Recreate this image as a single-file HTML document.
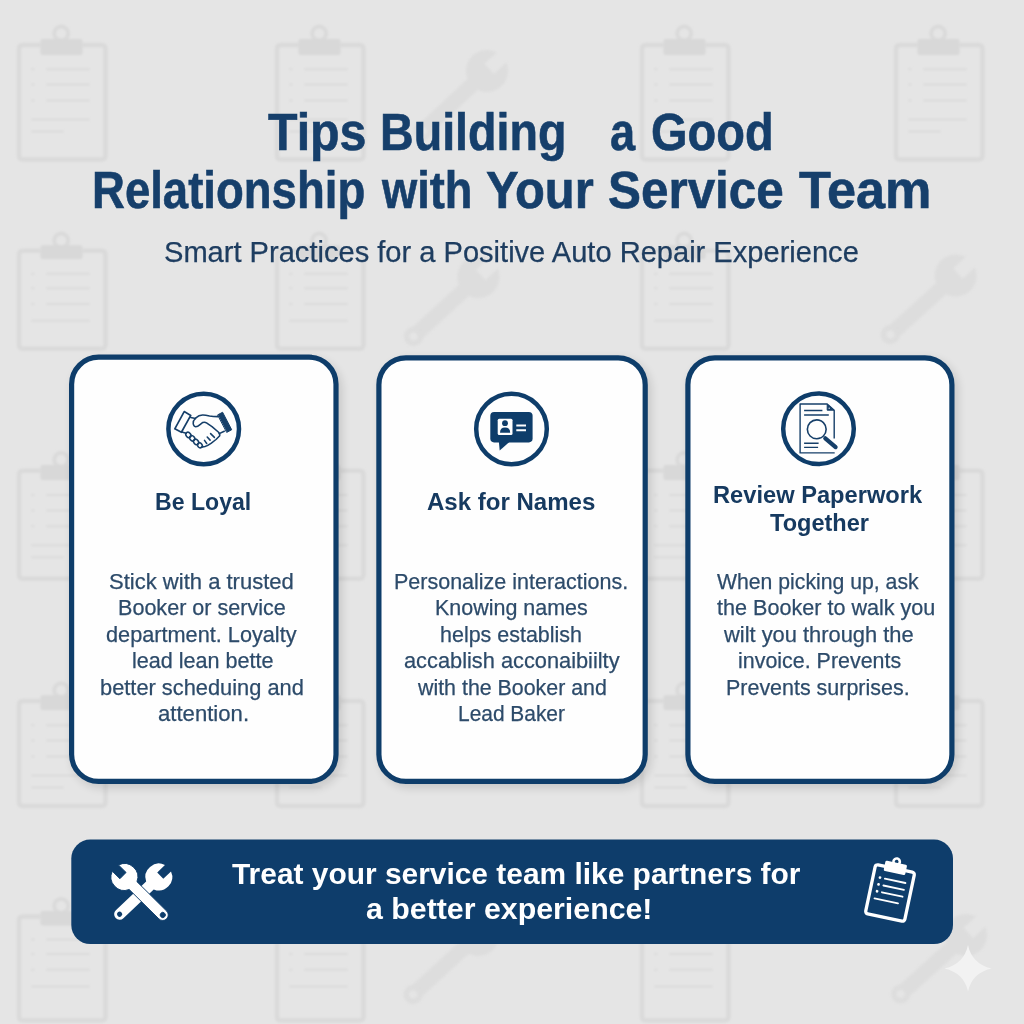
<!DOCTYPE html>
<html><head><meta charset="utf-8">
<style>
html,body{margin:0;padding:0;}
body{width:1024px;height:1024px;overflow:hidden;background:#e5e5e5;position:relative;font-family:"Liberation Sans",sans-serif;}
svg.bg{position:absolute;left:0;top:0;}
.t{position:absolute;white-space:nowrap;transform-origin:0 0;}
</style></head><body>
<svg class="bg" width="1024" height="1024" viewBox="0 0 1024 1024">
<defs>
<g id="wr">
 <path d="M-7 -3 L-7 -19.8 A21 21 0 1 0 7 -19.8 L7 -3 Z"/>
 <rect x="-7.5" y="10" width="15" height="74"/>
 <path fill-rule="evenodd" d="M9.5 88 A9.5 9.5 0 1 0 -9.5 88 A9.5 9.5 0 1 0 9.5 88 Z M4 88 A4 4 0 1 1 -4 88 A4 4 0 1 1 4 88 Z"/>
</g>
<g id="wr2">
 <path fill-rule="evenodd" d="M-4.4 -2 L-4.4 -12.66 A13.4 13.4 0 0 0 -5.5 12.22 L-5.5 54 A5.5 5.5 0 0 0 5.5 54 L5.5 12.22 A13.4 13.4 0 0 0 4.4 -12.66 L4.4 -2 Z M2.6 54 A2.6 2.6 0 1 0 -2.6 54 A2.6 2.6 0 1 0 2.6 54 Z"/>
</g>
<filter id="soft" x="-10%" y="-10%" width="120%" height="120%"><feGaussianBlur stdDeviation="1.1"/></filter>
<filter id="sh" x="-20%" y="-20%" width="140%" height="140%">
 <feGaussianBlur stdDeviation="5"/>
</filter>
</defs>
<!-- background pattern -->
<g filter="url(#soft)"><circle cx="61.2" cy="33.5" r="7" fill="none" stroke="#dadada" stroke-width="4"/>
<rect x="40.5" y="39.0" width="42" height="16.0" rx="2" fill="#d8d8d8"/>
<path d="M40.5 45.0 H23.0 Q19.0 45.0 19.0 49.0 V155.5 Q19.0 159.5 23.0 159.5 H101.5 Q105.5 159.5 105.5 155.5 V49.0 Q105.5 45.0 101.5 45.0 H82.5" fill="none" stroke="#dadada" stroke-width="4.5"/>
<path d="M31.0 69.2 h3.5 M46.0 69.2 H90.0 M31.0 84.6 h3.5 M46.0 84.6 H90.0 M31.0 100.5 h3.5 M46.0 100.5 H90.0 M31.0 119.4 H90.0 M31.0 131.5 H64.0 " stroke="#dcdcdc" stroke-width="2" fill="none"/>
<circle cx="319.2" cy="33.5" r="7" fill="none" stroke="#dadada" stroke-width="4"/>
<rect x="298.5" y="39.0" width="42" height="16.0" rx="2" fill="#d8d8d8"/>
<path d="M298.5 45.0 H281.0 Q277.0 45.0 277.0 49.0 V155.5 Q277.0 159.5 281.0 159.5 H359.5 Q363.5 159.5 363.5 155.5 V49.0 Q363.5 45.0 359.5 45.0 H340.5" fill="none" stroke="#dadada" stroke-width="4.5"/>
<path d="M289.0 69.2 h3.5 M304.0 69.2 H348.0 M289.0 84.6 h3.5 M304.0 84.6 H348.0 M289.0 100.5 h3.5 M304.0 100.5 H348.0 M289.0 119.4 H348.0 M289.0 131.5 H322.0 " stroke="#dcdcdc" stroke-width="2" fill="none"/>
<circle cx="684.2" cy="33.5" r="7" fill="none" stroke="#dadada" stroke-width="4"/>
<rect x="663.5" y="39.0" width="42" height="16.0" rx="2" fill="#d8d8d8"/>
<path d="M663.5 45.0 H646.0 Q642.0 45.0 642.0 49.0 V155.5 Q642.0 159.5 646.0 159.5 H724.5 Q728.5 159.5 728.5 155.5 V49.0 Q728.5 45.0 724.5 45.0 H705.5" fill="none" stroke="#dadada" stroke-width="4.5"/>
<path d="M654.0 69.2 h3.5 M669.0 69.2 H713.0 M654.0 84.6 h3.5 M669.0 84.6 H713.0 M654.0 100.5 h3.5 M669.0 100.5 H713.0 M654.0 119.4 H713.0 M654.0 131.5 H687.0 " stroke="#dcdcdc" stroke-width="2" fill="none"/>
<circle cx="938.2" cy="33.5" r="7" fill="none" stroke="#dadada" stroke-width="4"/>
<rect x="917.5" y="39.0" width="42" height="16.0" rx="2" fill="#d8d8d8"/>
<path d="M917.5 45.0 H900.0 Q896.0 45.0 896.0 49.0 V155.5 Q896.0 159.5 900.0 159.5 H978.5 Q982.5 159.5 982.5 155.5 V49.0 Q982.5 45.0 978.5 45.0 H959.5" fill="none" stroke="#dadada" stroke-width="4.5"/>
<path d="M908.0 69.2 h3.5 M923.0 69.2 H967.0 M908.0 84.6 h3.5 M923.0 84.6 H967.0 M908.0 100.5 h3.5 M923.0 100.5 H967.0 M908.0 119.4 H967.0 M908.0 131.5 H941.0 " stroke="#dcdcdc" stroke-width="2" fill="none"/>
<circle cx="61.2" cy="240.5" r="7" fill="none" stroke="#dadada" stroke-width="4"/>
<rect x="40.5" y="245.3" width="42" height="13.7" rx="2" fill="#d8d8d8"/>
<path d="M40.5 250.7 H23.0 Q19.0 250.7 19.0 254.7 V344.7 Q19.0 348.7 23.0 348.7 H101.5 Q105.5 348.7 105.5 344.7 V254.7 Q105.5 250.7 101.5 250.7 H82.5" fill="none" stroke="#dadada" stroke-width="4.5"/>
<path d="M31.0 273.7 h3.5 M46.0 273.7 H90.0 M31.0 288.3 h3.5 M46.0 288.3 H90.0 M31.0 303.9 h3.5 M46.0 303.9 H90.0 M31.0 320.7 H90.0 " stroke="#dcdcdc" stroke-width="2" fill="none"/>
<circle cx="319.2" cy="240.5" r="7" fill="none" stroke="#dadada" stroke-width="4"/>
<rect x="298.5" y="245.3" width="42" height="13.7" rx="2" fill="#d8d8d8"/>
<path d="M298.5 250.7 H281.0 Q277.0 250.7 277.0 254.7 V344.7 Q277.0 348.7 281.0 348.7 H359.5 Q363.5 348.7 363.5 344.7 V254.7 Q363.5 250.7 359.5 250.7 H340.5" fill="none" stroke="#dadada" stroke-width="4.5"/>
<path d="M289.0 273.7 h3.5 M304.0 273.7 H348.0 M289.0 288.3 h3.5 M304.0 288.3 H348.0 M289.0 303.9 h3.5 M304.0 303.9 H348.0 M289.0 320.7 H348.0 " stroke="#dcdcdc" stroke-width="2" fill="none"/>
<circle cx="684.2" cy="240.5" r="7" fill="none" stroke="#dadada" stroke-width="4"/>
<rect x="663.5" y="245.3" width="42" height="13.7" rx="2" fill="#d8d8d8"/>
<path d="M663.5 250.7 H646.0 Q642.0 250.7 642.0 254.7 V344.7 Q642.0 348.7 646.0 348.7 H724.5 Q728.5 348.7 728.5 344.7 V254.7 Q728.5 250.7 724.5 250.7 H705.5" fill="none" stroke="#dadada" stroke-width="4.5"/>
<path d="M654.0 273.7 h3.5 M669.0 273.7 H713.0 M654.0 288.3 h3.5 M669.0 288.3 H713.0 M654.0 303.9 h3.5 M669.0 303.9 H713.0 M654.0 320.7 H713.0 " stroke="#dcdcdc" stroke-width="2" fill="none"/>
<circle cx="61.2" cy="459.8" r="7" fill="none" stroke="#dadada" stroke-width="4"/>
<rect x="40.5" y="465.0" width="42" height="15.1" rx="2" fill="#d8d8d8"/>
<path d="M40.5 470.8 H23.0 Q19.0 470.8 19.0 474.8 V574.8 Q19.0 578.8 23.0 578.8 H101.5 Q105.5 578.8 105.5 574.8 V474.8 Q105.5 470.8 101.5 470.8 H82.5" fill="none" stroke="#dadada" stroke-width="4.5"/>
<path d="M31.0 495.0 h3.5 M46.0 495.0 H90.0 M31.0 510.4 h3.5 M46.0 510.4 H90.0 M31.0 526.3 h3.5 M46.0 526.3 H90.0 M31.0 545.2 H90.0 M31.0 557.3 H64.0 " stroke="#dcdcdc" stroke-width="2" fill="none"/>
<circle cx="319.2" cy="459.8" r="7" fill="none" stroke="#dadada" stroke-width="4"/>
<rect x="298.5" y="465.0" width="42" height="15.1" rx="2" fill="#d8d8d8"/>
<path d="M298.5 470.8 H281.0 Q277.0 470.8 277.0 474.8 V574.8 Q277.0 578.8 281.0 578.8 H359.5 Q363.5 578.8 363.5 574.8 V474.8 Q363.5 470.8 359.5 470.8 H340.5" fill="none" stroke="#dadada" stroke-width="4.5"/>
<path d="M289.0 495.0 h3.5 M304.0 495.0 H348.0 M289.0 510.4 h3.5 M304.0 510.4 H348.0 M289.0 526.3 h3.5 M304.0 526.3 H348.0 M289.0 545.2 H348.0 M289.0 557.3 H322.0 " stroke="#dcdcdc" stroke-width="2" fill="none"/>
<circle cx="684.2" cy="459.8" r="7" fill="none" stroke="#dadada" stroke-width="4"/>
<rect x="663.5" y="465.0" width="42" height="15.1" rx="2" fill="#d8d8d8"/>
<path d="M663.5 470.8 H646.0 Q642.0 470.8 642.0 474.8 V574.8 Q642.0 578.8 646.0 578.8 H724.5 Q728.5 578.8 728.5 574.8 V474.8 Q728.5 470.8 724.5 470.8 H705.5" fill="none" stroke="#dadada" stroke-width="4.5"/>
<path d="M654.0 495.0 h3.5 M669.0 495.0 H713.0 M654.0 510.4 h3.5 M669.0 510.4 H713.0 M654.0 526.3 h3.5 M669.0 526.3 H713.0 M654.0 545.2 H713.0 M654.0 557.3 H687.0 " stroke="#dcdcdc" stroke-width="2" fill="none"/>
<circle cx="938.2" cy="459.8" r="7" fill="none" stroke="#dadada" stroke-width="4"/>
<rect x="917.5" y="465.0" width="42" height="15.1" rx="2" fill="#d8d8d8"/>
<path d="M917.5 470.8 H900.0 Q896.0 470.8 896.0 474.8 V574.8 Q896.0 578.8 900.0 578.8 H978.5 Q982.5 578.8 982.5 574.8 V474.8 Q982.5 470.8 978.5 470.8 H959.5" fill="none" stroke="#dadada" stroke-width="4.5"/>
<path d="M908.0 495.0 h3.5 M923.0 495.0 H967.0 M908.0 510.4 h3.5 M923.0 510.4 H967.0 M908.0 526.3 h3.5 M923.0 526.3 H967.0 M908.0 545.2 H967.0 M908.0 557.3 H941.0 " stroke="#dcdcdc" stroke-width="2" fill="none"/>
<circle cx="61.2" cy="690.3" r="7" fill="none" stroke="#dadada" stroke-width="4"/>
<rect x="40.5" y="695.3" width="42" height="14.7" rx="2" fill="#d8d8d8"/>
<path d="M40.5 701.0 H23.0 Q19.0 701.0 19.0 705.0 V802.0 Q19.0 806.0 23.0 806.0 H101.5 Q105.5 806.0 105.5 802.0 V705.0 Q105.5 701.0 101.5 701.0 H82.5" fill="none" stroke="#dadada" stroke-width="4.5"/>
<path d="M31.0 725.2 h3.5 M46.0 725.2 H90.0 M31.0 740.6 h3.5 M46.0 740.6 H90.0 M31.0 756.5 h3.5 M46.0 756.5 H90.0 M31.0 775.4 H90.0 M31.0 787.5 H64.0 " stroke="#dcdcdc" stroke-width="2" fill="none"/>
<circle cx="319.2" cy="690.3" r="7" fill="none" stroke="#dadada" stroke-width="4"/>
<rect x="298.5" y="695.3" width="42" height="14.7" rx="2" fill="#d8d8d8"/>
<path d="M298.5 701.0 H281.0 Q277.0 701.0 277.0 705.0 V802.0 Q277.0 806.0 281.0 806.0 H359.5 Q363.5 806.0 363.5 802.0 V705.0 Q363.5 701.0 359.5 701.0 H340.5" fill="none" stroke="#dadada" stroke-width="4.5"/>
<path d="M289.0 725.2 h3.5 M304.0 725.2 H348.0 M289.0 740.6 h3.5 M304.0 740.6 H348.0 M289.0 756.5 h3.5 M304.0 756.5 H348.0 M289.0 775.4 H348.0 M289.0 787.5 H322.0 " stroke="#dcdcdc" stroke-width="2" fill="none"/>
<circle cx="684.2" cy="690.3" r="7" fill="none" stroke="#dadada" stroke-width="4"/>
<rect x="663.5" y="695.3" width="42" height="14.7" rx="2" fill="#d8d8d8"/>
<path d="M663.5 701.0 H646.0 Q642.0 701.0 642.0 705.0 V802.0 Q642.0 806.0 646.0 806.0 H724.5 Q728.5 806.0 728.5 802.0 V705.0 Q728.5 701.0 724.5 701.0 H705.5" fill="none" stroke="#dadada" stroke-width="4.5"/>
<path d="M654.0 725.2 h3.5 M669.0 725.2 H713.0 M654.0 740.6 h3.5 M669.0 740.6 H713.0 M654.0 756.5 h3.5 M669.0 756.5 H713.0 M654.0 775.4 H713.0 M654.0 787.5 H687.0 " stroke="#dcdcdc" stroke-width="2" fill="none"/>
<circle cx="938.2" cy="690.3" r="7" fill="none" stroke="#dadada" stroke-width="4"/>
<rect x="917.5" y="695.3" width="42" height="14.7" rx="2" fill="#d8d8d8"/>
<path d="M917.5 701.0 H900.0 Q896.0 701.0 896.0 705.0 V802.0 Q896.0 806.0 900.0 806.0 H978.5 Q982.5 806.0 982.5 802.0 V705.0 Q982.5 701.0 978.5 701.0 H959.5" fill="none" stroke="#dadada" stroke-width="4.5"/>
<path d="M908.0 725.2 h3.5 M923.0 725.2 H967.0 M908.0 740.6 h3.5 M923.0 740.6 H967.0 M908.0 756.5 h3.5 M923.0 756.5 H967.0 M908.0 775.4 H967.0 M908.0 787.5 H941.0 " stroke="#dcdcdc" stroke-width="2" fill="none"/>
<circle cx="61.2" cy="905.9" r="7" fill="none" stroke="#dadada" stroke-width="4"/>
<rect x="40.5" y="910.9" width="42" height="14.6" rx="2" fill="#d8d8d8"/>
<path d="M40.5 916.5 H23.0 Q19.0 916.5 19.0 920.5 V1016.5 Q19.0 1020.5 23.0 1020.5 H101.5 Q105.5 1020.5 105.5 1016.5 V920.5 Q105.5 916.5 101.5 916.5 H82.5" fill="none" stroke="#dadada" stroke-width="4.5"/>
<path d="M31.0 939.5 h3.5 M46.0 939.5 H90.0 M31.0 954.1 h3.5 M46.0 954.1 H90.0 M31.0 969.7 h3.5 M46.0 969.7 H90.0 M31.0 986.5 H90.0 " stroke="#dcdcdc" stroke-width="2" fill="none"/>
<circle cx="319.2" cy="905.9" r="7" fill="none" stroke="#dadada" stroke-width="4"/>
<rect x="298.5" y="910.9" width="42" height="14.6" rx="2" fill="#d8d8d8"/>
<path d="M298.5 916.5 H281.0 Q277.0 916.5 277.0 920.5 V1016.5 Q277.0 1020.5 281.0 1020.5 H359.5 Q363.5 1020.5 363.5 1016.5 V920.5 Q363.5 916.5 359.5 916.5 H340.5" fill="none" stroke="#dadada" stroke-width="4.5"/>
<path d="M289.0 939.5 h3.5 M304.0 939.5 H348.0 M289.0 954.1 h3.5 M304.0 954.1 H348.0 M289.0 969.7 h3.5 M304.0 969.7 H348.0 M289.0 986.5 H348.0 " stroke="#dcdcdc" stroke-width="2" fill="none"/>
<circle cx="684.2" cy="905.9" r="7" fill="none" stroke="#dadada" stroke-width="4"/>
<rect x="663.5" y="910.9" width="42" height="14.6" rx="2" fill="#d8d8d8"/>
<path d="M663.5 916.5 H646.0 Q642.0 916.5 642.0 920.5 V1016.5 Q642.0 1020.5 646.0 1020.5 H724.5 Q728.5 1020.5 728.5 1016.5 V920.5 Q728.5 916.5 724.5 916.5 H705.5" fill="none" stroke="#dadada" stroke-width="4.5"/>
<path d="M654.0 939.5 h3.5 M669.0 939.5 H713.0 M654.0 954.1 h3.5 M669.0 954.1 H713.0 M654.0 969.7 h3.5 M669.0 969.7 H713.0 M654.0 986.5 H713.0 " stroke="#dcdcdc" stroke-width="2" fill="none"/></g>
<g fill="#dddddd" filter="url(#soft)">
 <use href="#wr" transform="translate(487,71) rotate(47)"/>
 <use href="#wr" transform="translate(478.4,277) rotate(47.5)"/>
 <use href="#wr" transform="translate(955.7,275.5) rotate(47.9)"/>
 <use href="#wr" transform="translate(478,935) rotate(47.5)"/>
 <use href="#wr" transform="translate(966,935) rotate(47.9)"/>
</g>
<!-- card shadows -->
<g fill="#000" opacity="0.13" filter="url(#sh)">
 <rect x="72" y="359" width="270" height="429" rx="30"/>
 <rect x="380" y="359" width="271" height="429" rx="30"/>
 <rect x="688" y="359" width="270" height="429" rx="30"/>
</g>
<!-- cards -->
<g fill="#fefefe" stroke="#0e3d6a" stroke-width="5.2">
 <rect x="71.6" y="357.2" width="264.4" height="424.2" rx="27"/>
 <rect x="378.9" y="357.8" width="266.3" height="423.6" rx="27"/>
 <rect x="687.9" y="357.8" width="264" height="423.6" rx="27"/>
</g>
<!-- icon circles -->
<g fill="none" stroke="#0e3d6a" stroke-width="4.5">
 <circle cx="203.7" cy="429" r="35.3"/>
 <circle cx="511.5" cy="429" r="35.3"/>
 <circle cx="818.5" cy="428.8" r="35.3"/>
</g>
<!-- handshake icon; local coords map to (155,380) -->
<g transform="translate(155,380)" fill="none" stroke="#163f69" stroke-width="1.55" stroke-linejoin="round" stroke-linecap="round">
 <path d="M29.2 31.6 L35.75 35.4 L26.4 52.25 L19.8 48.8 Z" stroke-width="1.7"/>
 <path d="M62.9 34.75 L67.6 32.25 L76.7 49.75 L72 52.25 Z" fill="#163f69" stroke-width="1"/>
 <path d="M35.75 37.6 L40.5 38.6"/>
 <path d="M63 36.6 Q58 36.6 54.5 36 Q50 35 47.5 35.1 Q44 35.2 40.5 38.2 Q38 40.5 38.2 43.5 Q38.5 46.5 40.6 46.7 Q42.5 46.8 45 44.6 L47.8 42.4 Q50 41.8 51.5 42.8 L57 46.6 L63.3 52 Q65.5 54.2 64.5 56 L61 59.5 L56 63.3 Q52 66 50 66.6 L46.4 67.3"/>
 <path d="M64.2 53.6 L69.3 51.2"/>
 <path d="M26.9 52 L31.1 53.3"/>
 <ellipse cx="33.4" cy="54.9" rx="2.3" ry="2.9" transform="rotate(-40 33.4 54.9)"/>
 <ellipse cx="37.2" cy="58.3" rx="2.3" ry="2.9" transform="rotate(-40 37.2 58.3)"/>
 <ellipse cx="41.1" cy="61.9" rx="2.3" ry="2.9" transform="rotate(-40 41.1 61.9)"/>
 <ellipse cx="44.9" cy="65.3" rx="2.2" ry="2.6" transform="rotate(-40 44.9 65.3)"/>
 <path d="M49.5 60.4 L51.7 63.5 M52.2 57 L55.1 60.1 M55.6 53.6 L59.4 57.4"/>
</g>
<!-- id card speech icon; local origin (462,380) -->
<g transform="translate(462,380)">
 <rect x="28.3" y="32" width="42.3" height="30.4" rx="3.8" fill="#0e3d6a"/>
 <path d="M36.8 61 L37.7 70.5 L48.5 61 Z" fill="#0e3d6a"/>
 <rect x="35.7" y="38.7" width="14.8" height="16.2" rx="1.5" fill="#fff"/>
 <circle cx="43" cy="43.2" r="2.9" fill="#0e3d6a"/>
 <path d="M38 52.8 Q38 47.6 43 47.6 Q48.2 47.6 48.2 52.8 Z" fill="#0e3d6a"/>
 <path d="M54.3 45.5 H64 M54.3 50.3 H64" stroke="#fff" stroke-width="2"/>
</g>
<!-- document search icon; origin (770,380) -->
<g transform="translate(770,380)" fill="none" stroke="#163f69" stroke-linejoin="round">
 <path d="M64.2 58.4 V30.2 L57.2 24 H30.1 V72.9 H64.7" stroke-width="1.4"/>
 <path d="M57.2 24.3 L57.2 30.2 L63.8 30.2 Z" fill="#163f69" stroke-width="1"/>
 <circle cx="59.2" cy="28.2" r="0.7" fill="#dfe6ee" stroke="none"/>
 <path d="M34.1 30.5 H52.4 M34.1 35 H58.8 M34.1 63.2 H48.6 M34.1 67.3 H48.1" stroke-width="1.35"/>
 <circle cx="46.75" cy="49.3" r="9.4" stroke-width="1.6"/>
 <path d="M55.3 58.3 L65.6 67.1" stroke-width="4.2" stroke-linecap="round"/>
</g>
<!-- banner -->
<rect x="71.3" y="839.6" width="881.7" height="104.5" rx="19" fill="#0e3d6b"/>
<!-- crossed wrenches icon -->
<g fill="#fff">
 <use href="#wr2" transform="translate(158.8,877) rotate(46.5)"/>
 <use href="#wr2" transform="translate(124.4,877) rotate(-45.3)" stroke="#0e3d6b" stroke-width="0.9"/>
</g>
<!-- clipboard icon on banner -->
<g transform="translate(890,893) rotate(12)" fill="none" stroke="#fff">
 <rect x="-20" y="-25" width="40" height="50" rx="2.5" stroke-width="3.3"/>
 <rect x="-11" y="-31" width="22" height="10.5" rx="1.5" fill="#fff" stroke="none"/>
 <circle cx="0" cy="-32" r="3.2" stroke-width="2.6"/>
 <g stroke-width="1.9" stroke-linecap="round">
  <path d="M-8 -13 H13 M-8 -6 H13 M-8 1 H13 M-14 8.5 H10"/>
 </g>
 <g fill="#fff" stroke="none"><circle cx="-13" cy="-13" r="1.4"/><circle cx="-13" cy="-6" r="1.4"/><circle cx="-13" cy="1" r="1.4"/></g>
</g>
<!-- sparkle -->
<path d="M968 945 Q972 964 991.5 968.5 Q972 973 968 991.5 Q964 973 944.5 968.5 Q964 964 968 945 Z" fill="#f2f2f2"/>
</svg>
<div class="t" style="left:267.72px;top:107.12px;font-size:51px;line-height:51px;font-weight:bold;-webkit-text-stroke:0.6px #163f6b;color:#163f6b;transform:scaleX(0.9472)">Tips</div>
<div class="t" style="left:380.37px;top:107.12px;font-size:51px;line-height:51px;font-weight:bold;-webkit-text-stroke:0.6px #163f6b;color:#163f6b;transform:scaleX(0.9139)">Building</div>
<div class="t" style="left:609.87px;top:107.12px;font-size:51px;line-height:51px;font-weight:bold;-webkit-text-stroke:0.6px #163f6b;color:#163f6b;transform:scaleX(0.8860)">a</div>
<div class="t" style="left:651.02px;top:107.12px;font-size:51px;line-height:51px;font-weight:bold;-webkit-text-stroke:0.6px #163f6b;color:#163f6b;transform:scaleX(0.9207)">Good</div>
<div class="t" style="left:92.24px;top:165.32px;font-size:51px;line-height:51px;font-weight:bold;-webkit-text-stroke:0.6px #163f6b;color:#163f6b;transform:scaleX(0.8928)">Relationship</div>
<div class="t" style="left:382.23px;top:165.32px;font-size:51px;line-height:51px;font-weight:bold;-webkit-text-stroke:0.6px #163f6b;color:#163f6b;transform:scaleX(0.8867)">with</div>
<div class="t" style="left:485.87px;top:165.32px;font-size:51px;line-height:51px;font-weight:bold;-webkit-text-stroke:0.6px #163f6b;color:#163f6b;transform:scaleX(0.9585)">Your</div>
<div class="t" style="left:607.77px;top:165.32px;font-size:51px;line-height:51px;font-weight:bold;-webkit-text-stroke:0.6px #163f6b;color:#163f6b;transform:scaleX(0.9685)">Service</div>
<div class="t" style="left:799.18px;top:165.32px;font-size:51px;line-height:51px;font-weight:bold;-webkit-text-stroke:0.6px #163f6b;color:#163f6b;transform:scaleX(1.0237)">Team</div>
<div class="t" style="left:163.99px;top:237.75px;font-size:29px;line-height:29px;-webkit-text-stroke:0.25px #1e3d60;color:#1e3d60;transform:scaleX(1.0025)">Smart Practices for a Positive Auto Repair Experience</div>
<div class="t" style="left:154.80px;top:491.00px;font-size:23.5px;line-height:23.5px;font-weight:bold;color:#163a60;transform:scaleX(0.9829)">Be Loyal</div>
<div class="t" style="left:427.12px;top:491.10px;font-size:23.5px;line-height:23.5px;font-weight:bold;color:#163a60;transform:scaleX(1.0230)">Ask for Names</div>
<div class="t" style="left:712.96px;top:484.10px;font-size:23.5px;line-height:23.5px;font-weight:bold;color:#163a60;transform:scaleX(1.0071)">Review Paperwork</div>
<div class="t" style="left:770.06px;top:512.20px;font-size:23.5px;line-height:23.5px;font-weight:bold;color:#163a60;transform:scaleX(1.0019)">Together</div>
<div class="t" style="left:109.11px;top:571.60px;font-size:21.5px;line-height:21.5px;-webkit-text-stroke:0.25px #2d4b6a;color:#2d4b6a;transform:scaleX(1.0244)">Stick with a trusted</div>
<div class="t" style="left:118.07px;top:598.10px;font-size:21.5px;line-height:21.5px;-webkit-text-stroke:0.25px #2d4b6a;color:#2d4b6a;transform:scaleX(1.0031)">Booker or service</div>
<div class="t" style="left:105.73px;top:624.60px;font-size:21.5px;line-height:21.5px;-webkit-text-stroke:0.25px #2d4b6a;color:#2d4b6a;transform:scaleX(1.0092)">department. Loyalty</div>
<div class="t" style="left:131.80px;top:651.10px;font-size:21.5px;line-height:21.5px;-webkit-text-stroke:0.25px #2d4b6a;color:#2d4b6a;transform:scaleX(1.0037)">lead lean bette</div>
<div class="t" style="left:100.29px;top:677.60px;font-size:21.5px;line-height:21.5px;-webkit-text-stroke:0.25px #2d4b6a;color:#2d4b6a;transform:scaleX(1.0151)">better scheduing and</div>
<div class="t" style="left:158.41px;top:704.10px;font-size:21.5px;line-height:21.5px;-webkit-text-stroke:0.25px #2d4b6a;color:#2d4b6a;transform:scaleX(1.0291)">attention.</div>
<div class="t" style="left:394.28px;top:571.60px;font-size:21.5px;line-height:21.5px;-webkit-text-stroke:0.25px #2d4b6a;color:#2d4b6a;transform:scaleX(0.9999)">Personalize interactions.</div>
<div class="t" style="left:435.18px;top:598.10px;font-size:21.5px;line-height:21.5px;-webkit-text-stroke:0.25px #2d4b6a;color:#2d4b6a;transform:scaleX(0.9986)">Knowing names</div>
<div class="t" style="left:440.30px;top:624.60px;font-size:21.5px;line-height:21.5px;-webkit-text-stroke:0.25px #2d4b6a;color:#2d4b6a;transform:scaleX(0.9985)">helps establish</div>
<div class="t" style="left:403.83px;top:651.10px;font-size:21.5px;line-height:21.5px;-webkit-text-stroke:0.25px #2d4b6a;color:#2d4b6a;transform:scaleX(1.0134)">accablish acconaibiilty</div>
<div class="t" style="left:418.11px;top:677.60px;font-size:21.5px;line-height:21.5px;-webkit-text-stroke:0.25px #2d4b6a;color:#2d4b6a;transform:scaleX(0.9940)">with the Booker and</div>
<div class="t" style="left:458.23px;top:704.10px;font-size:21.5px;line-height:21.5px;-webkit-text-stroke:0.25px #2d4b6a;color:#2d4b6a;transform:scaleX(0.9725)">Lead Baker</div>
<div class="t" style="left:717.00px;top:571.60px;font-size:21.5px;line-height:21.5px;-webkit-text-stroke:0.25px #2d4b6a;color:#2d4b6a;transform:scaleX(0.9865)">When picking up, ask</div>
<div class="t" style="left:716.98px;top:598.10px;font-size:21.5px;line-height:21.5px;-webkit-text-stroke:0.25px #2d4b6a;color:#2d4b6a;transform:scaleX(1.0039)">the Booker to walk you</div>
<div class="t" style="left:723.91px;top:624.60px;font-size:21.5px;line-height:21.5px;-webkit-text-stroke:0.25px #2d4b6a;color:#2d4b6a;transform:scaleX(1.0174)">wilt you through the</div>
<div class="t" style="left:738.21px;top:651.10px;font-size:21.5px;line-height:21.5px;-webkit-text-stroke:0.25px #2d4b6a;color:#2d4b6a;transform:scaleX(0.9965)">invoice. Prevents</div>
<div class="t" style="left:726.28px;top:677.60px;font-size:21.5px;line-height:21.5px;-webkit-text-stroke:0.25px #2d4b6a;color:#2d4b6a;transform:scaleX(0.9978)">Prevents surprises.</div>
<div class="t" style="left:232.00px;top:859.20px;font-size:30px;line-height:30px;font-weight:bold;color:#ffffff;transform:scaleX(0.9968)">Treat your service team like partners for</div>
<div class="t" style="left:365.74px;top:894.30px;font-size:30px;line-height:30px;font-weight:bold;color:#ffffff;transform:scaleX(1.0106)">a better experience!</div>
</body></html>
